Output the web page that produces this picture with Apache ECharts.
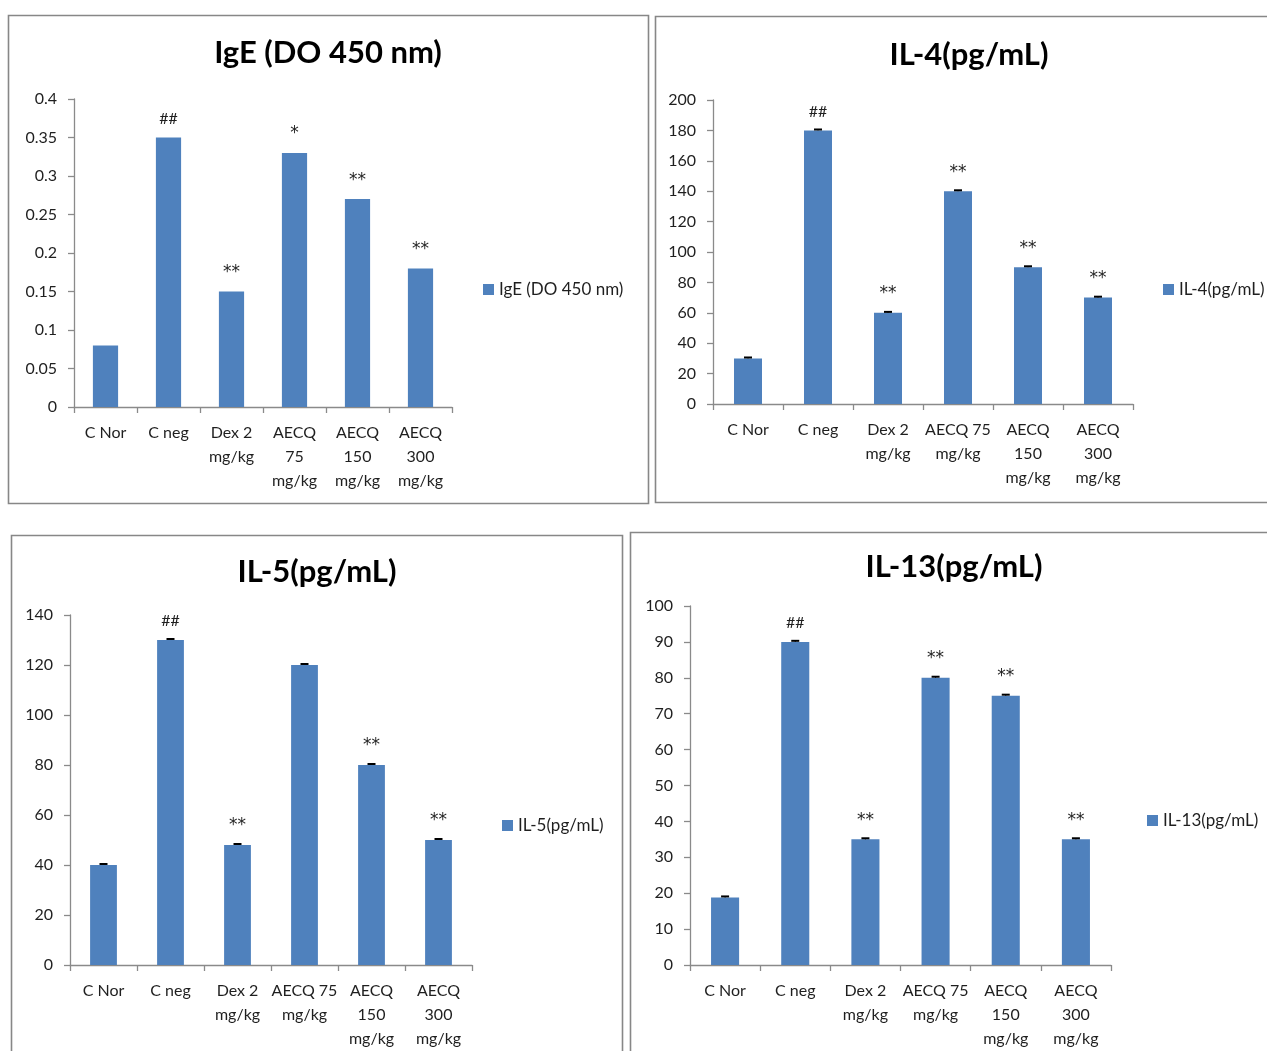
<!DOCTYPE html>
<html>
<head>
<meta charset="utf-8">
<script src="https://cdn.jsdelivr.net/npm/echarts@6/dist/echarts.min.js"></script>
<style>
html,body{margin:0;padding:0;background:#fff;}
#chart{width:1267px;height:1051px;}
</style>
</head>
<body>
<div id="chart"></div>
<script>
// ---- data ----
const catsIgE = ['C Nor', 'C neg', 'Dex 2\nmg/kg', 'AECQ\n75\nmg/kg', 'AECQ\n150\nmg/kg', 'AECQ\n300\nmg/kg'];
const catsIL = ['C Nor', 'C neg', 'Dex 2\nmg/kg', 'AECQ 75\nmg/kg', 'AECQ\n150\nmg/kg', 'AECQ\n300\nmg/kg'];

const nameIgE = 'IgE (DO 450 nm)';
const valIgE = [0.08, 0.35, 0.15, 0.33, 0.27, 0.18];
const sigIgE = ['', '##', '**', '*', '**', '**'];

const nameIL4 = 'IL-4(pg/mL)';
const valIL4 = [30, 180, 60, 140, 90, 70];
const errIL4 = [0.6, 0.6, 0.6, 0.6, 0.6, 0.6];
const sigIL4 = ['', '##', '**', '**', '**', '**'];

const nameIL5 = 'IL-5(pg/mL)';
const valIL5 = [40, 130, 48, 120, 80, 50];
const errIL5 = [0.4, 0.4, 0.4, 0.4, 0.4, 0.4];
const sigIL5 = ['', '##', '**', '', '**', '**'];

const nameIL13 = 'IL-13(pg/mL)';
const valIL13 = [18.8, 90, 35, 80, 75, 35];
const errIL13 = [0.3, 0.3, 0.3, 0.3, 0.3, 0.3];
const sigIL13 = ['', '##', '**', '**', '**', '**'];

const yIgE = {min: 0, max: 0.4, interval: 0.05};
const yIL4 = {min: 0, max: 200, interval: 20};
const yIL5 = {min: 0, max: 140, interval: 20};
const yIL13 = {min: 0, max: 100, interval: 10};

// ---- layout / style ----
const FONT = 'Lato, "Open Sans", sans-serif';
const SIGFONT = '"DejaVu Sans", "Liberation Sans", sans-serif';
const BLUE = '#4F81BD';
const AXIS = '#8a8a8a';
const TXT = '#1f1f1f';

const panels = [
  {title: nameIgE, name: nameIgE, cats: catsIgE, vals: valIgE, err: null, sig: sigIgE, y: yIgE,
   border: [8.5, 15.5, 640, 488], grid: [74, 99, 378, 308], tc: [328, 53], leg: [483, 290]},
  {title: nameIL4, name: nameIL4, cats: catsIL, vals: valIL4, err: errIL4, sig: sigIL4, y: yIL4,
   border: [655.5, 16.5, 640, 486], grid: [713, 100, 420, 304], tc: [969, 55], leg: [1163, 290]},
  {title: nameIL5, name: nameIL5, cats: catsIL, vals: valIL5, err: errIL5, sig: sigIL5, y: yIL5,
   border: [11.5, 535.5, 611, 540], grid: [70, 615, 402, 352], tc: [317, 572], leg: [502, 826]},
  {title: nameIL13, name: nameIL13, cats: catsIL, vals: valIL13, err: errIL13, sig: sigIL13, y: yIL13,
   border: [630.5, 532.5, 660, 540], grid: [690, 606, 421, 364], tc: [954, 567], leg: [1147, 821]}
];

const grid = [], xAxis = [], yAxis = [], series = [], legend = [], graphic = [];

panels.forEach((p, i) => {
  graphic.push({type: 'rect', shape: {x: p.border[0], y: p.border[1], width: p.border[2], height: p.border[3]},
    style: {fill: 'none', stroke: '#878787', lineWidth: 1.6}, z: 0});
  graphic.push({type: 'text', x: p.tc[0], y: p.tc[1],
    style: {text: p.title, font: 'bold 31px ' + FONT, fill: '#000', textAlign: 'center', textVerticalAlign: 'middle'}});
  grid.push({left: p.grid[0], top: p.grid[1], width: p.grid[2], height: p.grid[3], containLabel: false});
  xAxis.push({type: 'category', gridIndex: i, data: p.cats,
    axisLine: {lineStyle: {color: AXIS, width: 1.3}},
    axisTick: {show: true, length: 6, lineStyle: {color: AXIS, width: 1.3}},
    axisLabel: {interval: 0, fontFamily: FONT, fontSize: 16, color: TXT, lineHeight: 24, margin: 14}
  });
  yAxis.push({type: 'value', gridIndex: i, min: p.y.min, max: p.y.max, interval: p.y.interval,
    axisLine: {show: true, lineStyle: {color: AXIS, width: 1.3}},
    axisTick: {show: true, length: 6, lineStyle: {color: AXIS, width: 1.3}},
    splitLine: {show: false},
    axisLabel: {fontFamily: FONT, fontSize: 16, color: TXT, margin: 17}
  });
  series.push({type: 'bar', name: p.name, xAxisIndex: i, yAxisIndex: i, data: p.vals, barWidth: '40%',
    itemStyle: {color: BLUE},
    label: {show: true, position: 'top', distance: 10, color: TXT,
      formatter: (d) => {
        const s = p.sig[d.dataIndex];
        if (!s) return '';
        return s.indexOf('#') >= 0 ? '{h|' + s + '}' : '{s|' + s + '}';
      },
      rich: {
        h: {fontFamily: FONT, fontSize: 16, color: TXT, lineHeight: 18},
        s: {fontFamily: SIGFONT, fontSize: 17, color: TXT, lineHeight: 18}
      }
    }
  });
  if (p.err) {
    series.push({type: 'custom', xAxisIndex: i, yAxisIndex: i, z: 5,
      data: p.vals.map((v, k) => [k, v, p.err[k]]),
      renderItem: function (params, api) {
        const base = api.coord([api.value(0), api.value(1)]);
        const top = api.coord([api.value(0), api.value(1) + api.value(2)]);
        return {type: 'group', children: [
          {type: 'line', shape: {x1: base[0] - 4, y1: top[1], x2: base[0] + 4, y2: top[1]}, style: {stroke: '#000', lineWidth: 2}},
          {type: 'line', shape: {x1: base[0], y1: base[1], x2: base[0], y2: top[1]}, style: {stroke: '#000', lineWidth: 1}}
        ]};
      }
    });
  }
  legend.push({data: [p.name], left: p.leg[0], top: p.leg[1] - 9, padding: 0, icon: 'rect', itemWidth: 11, itemHeight: 11,
    itemGap: 5, selectedMode: false, textStyle: {fontFamily: FONT, fontSize: 17, color: TXT, padding: [0, 0, 0, 0]}});
});

const chart = echarts.init(document.getElementById('chart'));
chart.setOption({
  animation: false,
  backgroundColor: '#fff',
  grid, xAxis, yAxis, series, legend, graphic
});
</script>
</body>
</html>
